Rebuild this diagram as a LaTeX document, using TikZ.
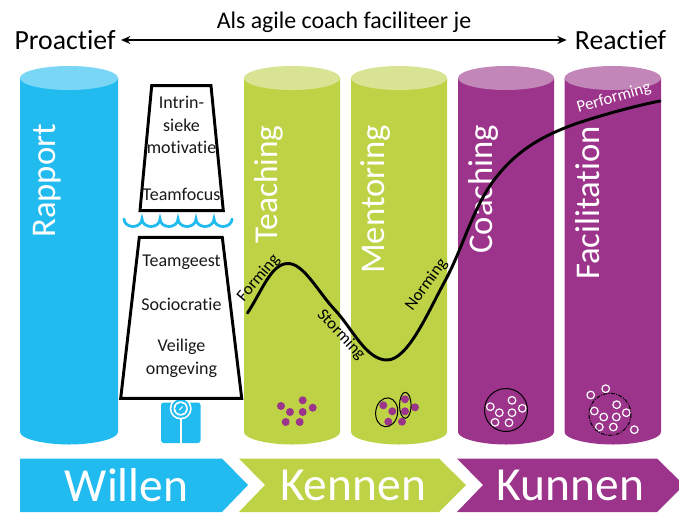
\documentclass[tikz,border=0pt]{standalone}
\usepackage{fontspec}
\setmainfont[Ligatures=NoCommon]{Carlito}
\usetikzlibrary{arrows.meta}
\definecolor{cblue}{HTML}{21BBEF}
\definecolor{cgreen}{HTML}{BDD245}
\definecolor{cpurple}{HTML}{9C348B}
\definecolor{tblue}{HTML}{7AD6F5}
\definecolor{tgreen}{HTML}{D8E494}
\definecolor{tpurple}{HTML}{C386B9}
\newcommand{\cyl}[4]{%
  \fill[#3] (#1,78) -- (#1,432) .. controls (#1,439) and ({#1+(#2-#1)*0.25},444.5) .. ({(#1+#2)/2},444.5) .. controls ({#2-(#2-#1)*0.25},444.5) and (#2,439) .. (#2,432) -- (#2,78) -- cycle;
  \fill[#4] ({(#1+#2)/2},78) ellipse ({(#2-#1)/2} and 12);
}
\tikzset{
  collabel/.style={text=white,rotate=90,font=\fontsize{26}{30}\selectfont,inner sep=0},
  edgetext/.style={font=\fontsize{20.8}{24}\selectfont,inner sep=0},
  toptext/.style={font=\fontsize{17.9}{22}\selectfont,inner sep=0},
  pyrtext/.style={font=\fontsize{13.5}{16.5}\selectfont,inner sep=0,align=center,text=black!90},
  stage/.style={font=\fontsize{12.6}{15}\selectfont,inner sep=0},
  phase/.style={text=white,font=\fontsize{35.6}{40}\selectfont,inner sep=0},
  pyr/.style={draw=black,line width=2.2pt,fill=white,line join=miter},
  pdot/.style={fill=cpurple},
  ring/.style={draw=white,line width=0.9pt},
  group/.style={draw=black,line width=0.75pt},
}
\begin{document}
\begin{tikzpicture}[x=0.75pt,y=-0.75pt]
\useasboundingbox (0,0) rectangle (679,519);
% cylinders
\cyl{20}{118}{cblue}{tblue}
\cyl{244}{340}{cgreen}{tgreen}
\cyl{351}{447}{cgreen}{tgreen}
\cyl{458}{554}{cpurple}{tpurple}
\cyl{564.5}{661}{cpurple}{tpurple}
% column labels
\node[collabel,anchor=west] (rapport) at (47,238) {Rapport};
\node[collabel,anchor=west,font=\fontsize{25}{30}\selectfont] (teaching) at (269,244) {Teaching};
\node[collabel,anchor=west] (mentoring) at (376,274) {Mentoring};
\node[collabel,anchor=west] (coaching) at (483,254) {Coaching};
\node[collabel,anchor=west] (facilitation) at (587.5,280) {Facilitation};
% top line
\node[edgetext] (pro) at (65,40) {Proactief};
\node[edgetext] (rea) at (620.5,40) {Reactief};
\node[toptext] (als) at (344,22) {Als agile coach faciliteer je};
\draw[{Stealth[length=7pt,width=6pt]}-{Stealth[length=7pt,width=6pt]},line width=1.1pt] ([xshift=4pt]pro.east) -- ([xshift=-6pt]rea.west);
% scale icon
\fill[cblue,rounded corners=2pt] (161,402.5) rectangle (200.5,443);
\draw[white,line width=1.4pt] (180.7,410) -- (180.7,443);
\fill[white] (180.7,408.5) circle (11);
\fill[cblue] (180.7,408.5) circle (9.3);
\fill[white] (180.7,408.5) circle (7.2);
\fill[cblue] (180.7,408.5) circle (5.6);
\draw[white,line width=0.8pt] (179.5,410) -- (182.5,406.5);
% pyramid
\draw[pyr] (151.7,85.7) -- (211,85.7) -- (223.3,210.7) -- (140,210.7) -- cycle;
\draw[pyr] (139.3,237.3) -- (222.3,237.3) -- (241.7,398.3) -- (120.7,398.3) -- cycle;
\node[pyrtext] (intrin) at (181.5,125) {Intrin-\\[0.5pt]sieke\\[0.5pt]motivatie};
\node[pyrtext] (focus) at (181.5,194.5) {Teamfocus};
\node[pyrtext] (geest) at (181.5,262) {Teamgeest};
\node[pyrtext] (socio) at (181.5,304.5) {Sociocratie};
\node[pyrtext] (veilig) at (181.5,358) {Veilige\\[1pt]omgeving};
% water
\draw[cblue,line width=2.1pt,line cap=round]
  (124,219) arc[start angle=180,end angle=0,x radius=9,y radius=7.5]
  arc[start angle=180,end angle=0,x radius=9,y radius=7.5]
  arc[start angle=180,end angle=0,x radius=9,y radius=7.5]
  arc[start angle=180,end angle=0,x radius=9,y radius=7.5]
  arc[start angle=180,end angle=0,x radius=9,y radius=7.5]
  arc[start angle=180,end angle=0,x radius=9,y radius=7.5];
% dots teaching
\foreach \x/\y in {281/406,302.7/400.3,312.7/407.7,290/412,302.7/412,285.7/422,299.7/422}
  \fill[pdot] (\x,\y) circle (4);
% dots mentoring
\foreach \x/\y in {383.3/405.3,405/399.3,415/407.3,392.3/411.3,405/411.3,388.3/421.7,402/421.7}
  \fill[pdot] (\x,\y) circle (4);
\draw[group,rotate around={-8:(386.7,412.3)}] (386.7,412.3) ellipse (11 and 14.5);
\draw[group] (405.3,405.3) ellipse (5.8 and 13);
% rings coaching
\foreach \x/\y in {490.3/406.7,512/400.3,522.3/408.3,499.3/412.7,512/412.7,495/422.3,509/422.7}
  \draw[ring] (\x,\y) circle (3.8);
\draw[group] (506,410) circle (21.5);
% rings facilitation
\foreach \x/\y in {590.7/395,605.7/388.7,616.7/404.7,594.3/411,603.7/417,616.3/417,626.3/412.7,599.3/427,613.3/427,634.3/429.7}
  \draw[ring] (\x,\y) circle (3.8);
\draw[group,densely dash dot] (610,414.3) circle (21);
% curve
\draw[line cap=round,line width=2.2pt]
  (247.5,313) .. controls (262,291) and (271,263.5) .. (288,263.5)
  .. controls (304,263.5) and (318,292) .. (335,310)
  .. controls (352,328) and (366,360) .. (387,360)
  .. controls (408,360) and (428,312) .. (445,281)
  .. controls (464,246) and (473,205) .. (498,175)
  .. controls (520,148) and (545,135) .. (575,124)
  .. controls (605,114) and (635,106) .. (660,101);
% stage labels
\node[stage,rotate=50] (forming) at (258.5,278) {Forming};
\node[stage,rotate=-47] (storming) at (341,335) {Storming};
\node[stage,rotate=54] (norming) at (426.5,285) {Norming};
\node[stage,rotate=16,text=white] (performing) at (614,98) {Performing};
% phases
\fill[cblue] (20,458.5) -- (222,458.5) -- (248,485) -- (222,512) -- (20,512) -- cycle;
\fill[cgreen] (239,458.5) -- (439,458.5) -- (466,485) -- (439,512) -- (239,512) -- (265,485) -- cycle;
\fill[cpurple] (457,458.5) -- (657,458.5) -- (684,485) -- (657,512) -- (457,512) -- (483,485) -- cycle;
\node[phase] (willen) at (126.5,485.5) {Willen};
\node[phase] (kennen) at (353,485.5) {Kennen};
\node[phase] (kunnen) at (570.5,485.5) {Kunnen};
\end{tikzpicture}
\end{document}
